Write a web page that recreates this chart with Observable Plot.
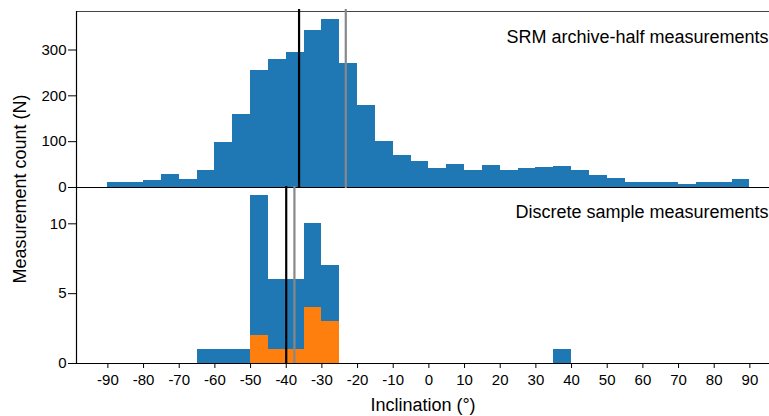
<!DOCTYPE html>
<html>
<head>
<meta charset="utf-8">
<script src="https://cdn.jsdelivr.net/npm/d3@7"></script>
<script src="https://cdn.jsdelivr.net/npm/@observablehq/plot@0.6"></script>
<style>
  body { margin: 0; background: #fff; font-family: "Liberation Sans", Arial, sans-serif; }
  #chart { position: relative; width: 769px; height: 416px; }
  #chart svg { display: block; }
  #ytitle {
    position: absolute; left: 20px; top: 189px;
    transform: translate(-50%, -50%) rotate(-90deg);
    white-space: nowrap; font-size: 18px; color: #000;
  }
</style>
</head>
<body>
<div id="chart"><div id="ytitle">Measurement count (N)</div></div>
<script>
// 5° inclination bins (left edges)
const binWidth = 5;
const srmBins = d3.range(-90, 90, 5);
// SRM archive-half measurement counts per bin
const srmCounts = [12, 12, 15, 28, 17, 37, 98, 159, 255, 279, 295, 343, 367, 271, 179, 100, 69, 56,
                   41, 50, 37, 47, 37, 41, 43, 45, 37, 26, 19, 12, 12, 10, 6, 12, 10, 17];

// Discrete samples: all (blue) and subset (orange)
const discreteBins = [-65, -60, -55, -50, -45, -40, -35, -30, 35];
const discreteCounts = [1, 1, 1, 12, 6, 6, 10, 7, 1];
const subsetBins = [-50, -45, -40, -35, -30];
const subsetCounts = [2, 1, 1, 4, 3];

// Reference inclinations drawn as vertical lines [black, gray]
const srmLines = [-36.4, -23.3];
const discreteLines = [-40.0, -37.7];

const xTicks = d3.range(-90, 91, 10);
const srmTicks = [0, 100, 200, 300];
const discreteTicks = [0, 5, 10];
const xDomain = [-98.8, 95.5];

const blue = "#1f77b4", orange = "#ff7f0e";
const rows = (bins, counts) => bins.map((b, i) => ({x1: b, x2: b + binWidth, n: counts[i]}));
const plain = d => String(d); // hyphen-minus for negative labels

const style = {fontFamily: "'Liberation Sans', Arial, sans-serif", fontSize: "15px", color: "#000", background: "transparent", overflow: "visible"};

const srmPanel = Plot.plot({
  width: 769, height: 187,
  marginTop: 11, marginBottom: 0, marginLeft: 76, marginRight: 0,
  style,
  x: {domain: xDomain, axis: null},
  y: {domain: [0, 384], ticks: srmTicks, tickSize: 8, tickPadding: 2, tickFormat: plain, label: null},
  marks: [
    Plot.rectY(rows(srmBins, srmCounts), {x1: "x1", x2: "x2", y: "n", fill: blue, shapeRendering: "crispEdges"}),
    Plot.ruleY([0], {stroke: "#000", strokeWidth: 1.2}),
    Plot.ruleY([384], {stroke: "#444", strokeWidth: 1.2}),
    Plot.ruleX([xDomain[0]], {stroke: "#000", strokeWidth: 1.2}),
    Plot.ruleX([srmLines[0]], {stroke: "#000", strokeWidth: 2.2, insetTop: -2, insetBottom: -1}),
    Plot.ruleX([srmLines[1]], {stroke: "#888", strokeWidth: 2.2, insetTop: -2, insetBottom: -1}),
    Plot.text(["SRM archive-half measurements"], {text: d => d, frameAnchor: "top-right", textAnchor: "end", dx: -1, dy: 19, fontSize: 18, fill: "#000"})
  ]
});

const discretePanel = Plot.plot({
  width: 769, height: 229,
  marginTop: 0, marginBottom: 53, marginLeft: 76, marginRight: 0,
  style,
  x: {domain: xDomain, ticks: xTicks, tickSize: 5, tickPadding: 6, tickFormat: plain, label: null},
  y: {domain: [0, 12.6], ticks: discreteTicks, tickSize: 8, tickPadding: 2, tickFormat: plain, label: null},
  marks: [
    Plot.rectY(rows(discreteBins, discreteCounts), {x1: "x1", x2: "x2", y: "n", fill: blue, shapeRendering: "crispEdges"}),
    Plot.rectY(rows(subsetBins, subsetCounts), {x1: "x1", x2: "x2", y: "n", fill: orange, shapeRendering: "crispEdges"}),
    Plot.ruleY([0], {stroke: "#000", strokeWidth: 1.2}),
    Plot.ruleX([xDomain[0]], {stroke: "#000", strokeWidth: 1.2}),
    Plot.ruleX([discreteLines[0]], {stroke: "#000", strokeWidth: 2.2, insetTop: -1}),
    Plot.ruleX([discreteLines[1]], {stroke: "#888", strokeWidth: 2.2, insetTop: -1}),
    Plot.text(["Discrete sample measurements"], {text: d => d, frameAnchor: "top-right", textAnchor: "end", dx: -1, dy: 18, fontSize: 18, fill: "#000"}),
    Plot.text(["Inclination (°)"], {text: d => d, frameAnchor: "bottom", lineAnchor: "middle", dy: 42, fontSize: 18, fill: "#000"})
  ]
});

const chart = document.getElementById("chart");
chart.appendChild(srmPanel);
chart.appendChild(discretePanel);
</script>
</body>
</html>
